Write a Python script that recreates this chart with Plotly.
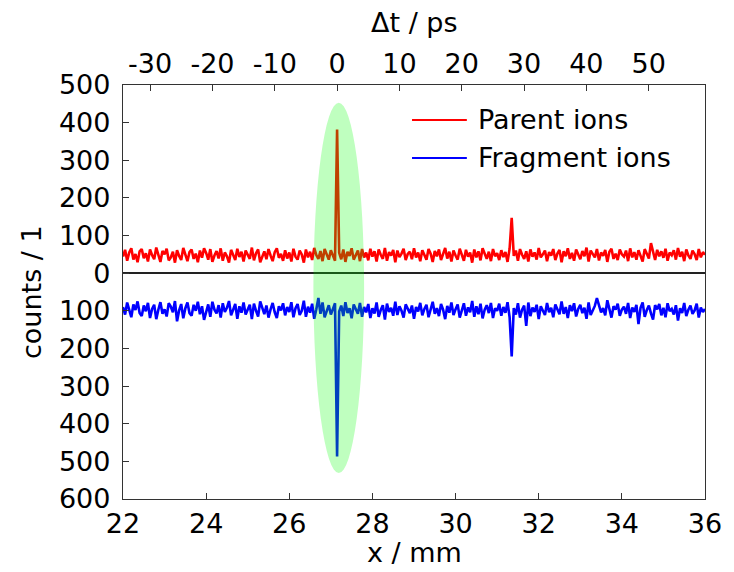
import numpy as np
import plotly.graph_objects as go

# ---------------- data ----------------
X_START_MM = 22.0
X_STEP_MM = 0.05

parent_counts = [
    44, 62, 33, 55, 66, 36, 51, 29, 58, 64, 40, 53, 31, 63, 48, 37, 68, 45, 30, 59,
    50, 65, 34, 42, 57, 28, 61, 46, 35, 67, 49, 32, 56, 63, 38, 52, 29, 60, 41, 66,
    54, 36, 64, 30, 47, 59, 39, 66, 33, 55, 45, 28, 62, 49, 35, 65, 43, 57, 31, 60,
    48, 38, 68, 34, 53, 63, 29, 46, 58, 37, 64, 47, 32, 56, 66, 41, 51, 33, 61, 39,
    55, 31, 65, 44, 36, 60, 50, 28, 63, 42, 57, 35, 67, 48, 38, 59, 32, 64, 49, 36,
    61, 45, 33, 382, 54, 37, 63, 30, 57, 46, 66, 36, 50, 60, 32, 64, 42, 55, 34, 65,
    44, 58, 31, 63, 49, 38, 67, 33, 56, 47, 62, 29, 60, 43, 52, 65, 35, 51, 57, 37,
    66, 42, 55, 32, 61, 47, 36, 64, 52, 30, 59, 45, 63, 35, 50, 67, 39, 57, 31, 60,
    47, 36, 65, 50, 33, 62, 44, 55, 28, 63, 42, 58, 34, 66, 49, 38, 57, 32, 64, 45,
    53, 35, 61, 43, 56, 30, 65, 147, 46, 60, 33, 64, 49, 38, 58, 31, 63, 44, 55, 36,
    67, 42, 50, 60, 32, 56, 47, 64, 35, 52, 62, 29, 58, 45, 66, 38, 54, 33, 63, 48,
    37, 59, 45, 68, 31, 60, 49, 42, 64, 34, 55, 46, 62, 30, 57, 65, 38, 52, 35, 63,
    50, 44, 60, 32, 66, 42, 56, 36, 61, 47, 31, 64, 52, 39, 80, 53, 35, 62, 45, 58,
    41, 65, 33, 55, 48, 61, 36, 67, 44, 57, 32, 63, 47, 38, 60, 51, 35, 64, 42, 56,
    49,
]

fragment_counts = [
    90, 110, 78, 102, 117, 83, 98, 75, 106, 114, 86, 101, 79, 119, 95, 84, 122, 97, 77, 108,
    96, 115, 80, 89, 104, 74, 128, 99, 82, 120, 93, 78, 106, 113, 84, 100, 76, 109, 88, 124,
    101, 83, 116, 76, 97, 107, 85, 118, 80, 103, 92, 74, 112, 98, 82, 121, 88, 105, 78, 110,
    99, 84, 122, 81, 100, 115, 75, 94, 109, 86, 118, 96, 79, 104, 119, 88, 99, 80, 112, 90,
    103, 77, 117, 93, 82, 111, 100, 73, 116, 89, 105, 81, 121, 96, 66, 108, 78, 117, 98, 85,
    110, 92, 80, 487, 102, 86, 114, 77, 106, 93, 120, 83, 97, 108, 79, 116, 90, 104, 82, 119,
    93, 107, 78, 116, 98, 85, 123, 81, 103, 92, 113, 76, 111, 88, 100, 118, 83, 97, 106, 86,
    121, 90, 102, 79, 112, 95, 84, 117, 99, 76, 108, 93, 114, 82, 97, 122, 87, 105, 78, 111,
    96, 83, 118, 98, 80, 113, 91, 104, 74, 116, 88, 109, 81, 120, 97, 85, 106, 79, 119, 93,
    100, 81, 113, 90, 105, 77, 117, 221, 93, 110, 80, 118, 97, 86, 140, 78, 114, 91, 103, 84,
    122, 88, 99, 111, 79, 104, 92, 117, 83, 97, 109, 75, 108, 90, 119, 85, 101, 80, 115, 95,
    84, 106, 92, 121, 78, 111, 99, 87, 66, 82, 104, 93, 112, 72, 98, 118, 88, 97, 81, 113,
    97, 89, 108, 79, 119, 91, 103, 84, 135, 92, 78, 116, 98, 86, 107, 123, 85, 96, 82, 112,
    92, 117, 80, 101, 95, 110, 85, 126, 93, 106, 79, 114, 97, 86, 108, 99, 81, 118, 91, 103,
    95,
]

series_names = ["Parent ions", "Fragment ions"]
series_colors = ["#ff0000", "#0000ff"]

x_range = [22, 36]
x_ticks = [22, 24, 26, 28, 30, 32, 34, 36]

y_ticks = [500, 400, 300, 200, 100, 0, -100, -200, -300, -400, -500, -600]
y_ticklabels = ["500", "400", "300", "200", "100", "0", "100", "200", "300", "400", "500", "600"]
y_range = [-600, 500]

# top axis: delay time, dt = 2 (x - x0) / c
X0_MM = 27.15
PS_PER_MM = 6.671
dt_ticks = [-30, -20, -10, 0, 10, 20, 30, 40, 50]
dt_ticklabels = ["-30", "-20", "-10", "0", "10", "20", "30", "40", "50"]

# highlighted region (ellipse)
HL_X = [26.58, 27.80]
HL_Y = [-531, 453]

# ---------------- figure ----------------
FONT = "DejaVu Sans"
FS = 27

x_mm = np.round(X_START_MM + X_STEP_MM * np.arange(len(parent_counts)), 3)
x_mm_f = np.round(X_START_MM + X_STEP_MM * np.arange(len(fragment_counts)), 3)

fig = go.Figure()
fig.add_trace(go.Scatter(x=x_mm, y=parent_counts, mode="lines",
                         line=dict(color=series_colors[0], width=2.6),
                         name=series_names[0], showlegend=False, hoverinfo="skip"))
fig.add_trace(go.Scatter(x=x_mm_f, y=[-v for v in fragment_counts], mode="lines",
                         line=dict(color=series_colors[1], width=2.6),
                         name=series_names[1], showlegend=False, hoverinfo="skip"))

top_range = [(x_range[0] - X0_MM) * PS_PER_MM, (x_range[1] - X0_MM) * PS_PER_MM]
fig.add_trace(go.Scatter(x=top_range, y=[0, 0], xaxis="x2", mode="lines",
                         line=dict(width=0), opacity=0, showlegend=False,
                         hoverinfo="skip"))

# highlight ellipse drawn on top (semi-transparent)
fig.add_shape(type="circle", xref="x", yref="y",
              x0=HL_X[0], x1=HL_X[1], y0=HL_Y[0], y1=HL_Y[1],
              fillcolor="rgba(0,255,0,0.25)", line=dict(width=0), layer="above")

AX_COL = "#333333"
axis_common = dict(showline=True, linecolor=AX_COL, linewidth=1.3,
                   ticks="inside", ticklen=6, tickcolor=AX_COL, tickwidth=1.2,
                   showgrid=False,
                   tickfont=dict(family=FONT, size=FS, color="black"))

fig.update_layout(
    width=734, height=572,
    margin=dict(l=123, r=27, t=85, b=73),
    paper_bgcolor="white", plot_bgcolor="white",
    showlegend=False,
    font=dict(family=FONT, size=FS, color="black"),
    xaxis=dict(range=x_range, tickvals=x_ticks, mirror=True, zeroline=False, **axis_common),
    xaxis2=dict(range=top_range, overlaying="x", side="top", zeroline=False,
                tickvals=dt_ticks, ticktext=dt_ticklabels, **axis_common),
    yaxis=dict(range=y_range, tickvals=y_ticks, ticktext=y_ticklabels,
               mirror=True, ticklabelstandoff=6, **axis_common,
               zeroline=True, zerolinecolor="#222222", zerolinewidth=1.5),
)

# axis titles
fig.add_annotation(text="x / mm", xref="paper", yref="paper", x=0.5, y=-0.13,
                   yanchor="middle", xanchor="center", showarrow=False,
                   font=dict(family=FONT, size=FS))
fig.add_annotation(text="Δt / ps", xref="paper", yref="paper", x=0.5, y=1.152,
                   yanchor="middle", xanchor="center", showarrow=False,
                   font=dict(family=FONT, size=FS))
fig.add_annotation(text="counts / 1", xref="paper", yref="paper", x=-0.158, y=0.5,
                   textangle=-90, yanchor="middle", xanchor="center", showarrow=False,
                   font=dict(family=FONT, size=FS))

# legend (line samples + labels)
leg_x0, leg_x1, leg_tx = 0.4966, 0.5908, 0.606
leg_y = [0.9155, 0.8237]
for name, col, yy in zip(series_names, series_colors, leg_y):
    fig.add_shape(type="line", xref="paper", yref="paper",
                  x0=leg_x0, x1=leg_x1, y0=yy, y1=yy,
                  line=dict(color=col, width=2))
    fig.add_annotation(text=name, xref="paper", yref="paper", x=leg_tx, y=yy,
                       xanchor="left", yanchor="middle", showarrow=False,
                       font=dict(family=FONT, size=FS))

fig.write_html("out.html")
